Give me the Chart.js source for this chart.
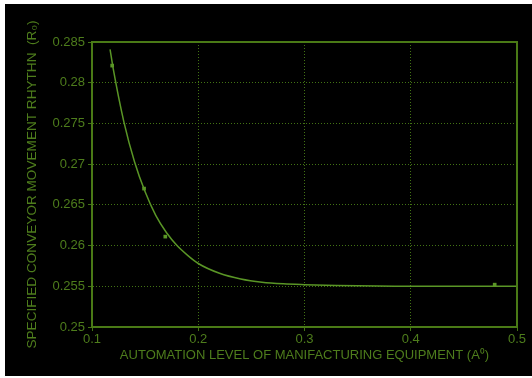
<!DOCTYPE html>
<html>
<head>
<meta charset="utf-8">
<script src="https://cdn.jsdelivr.net/npm/chart.js@4"></script>
<style>
  html, body { margin: 0; padding: 0; background: #fff; }
  #wrap { position: absolute; left: 5px; top: 4px; width: 527px; height: 372px; background: #000; }
</style>
</head>
<body>
<div id="wrap"><canvas id="chart" width="527" height="372"></canvas></div>
<script>
// fitted curve
const curveX = [0.117, 0.12, 0.13, 0.14, 0.15, 0.16, 0.17, 0.18, 0.19, 0.2, 0.22, 0.24, 0.26, 0.28, 0.3, 0.33, 0.4, 0.5];
const curveY = [0.2841, 0.2817, 0.2752, 0.2703, 0.2666, 0.2637, 0.2616, 0.2600, 0.2588, 0.2578, 0.2566, 0.2559, 0.2555, 0.2553, 0.2552, 0.2551, 0.2550, 0.2550];

// measured points
const pointX = [0.119, 0.149, 0.169, 0.479];
const pointY = [0.2821, 0.2670, 0.2611, 0.2552];

const xTicks = [0.1, 0.2, 0.3, 0.4, 0.5];
const yTicks = [0.25, 0.255, 0.26, 0.265, 0.27, 0.275, 0.28, 0.285];

const textColor = '#4e7d1c';
const axisColor = '#4a7a16';
const gridColor = '#427314';
const lineColor = '#5a9626';

const frame = {
  id: 'frame',
  afterDraw(chart) {
    const a = chart.chartArea;
    const ctx = chart.ctx;
    ctx.save();
    ctx.strokeStyle = axisColor;
    ctx.lineWidth = 2;
    ctx.strokeRect(a.left, a.top, a.right - a.left, a.bottom - a.top);
    ctx.restore();
  }
};

new Chart(document.getElementById('chart'), {
  type: 'scatter',
  data: {
    datasets: [
      {
        data: curveX.map((x, i) => ({ x: x, y: curveY[i] })),
        showLine: true,
        borderColor: lineColor,
        borderWidth: 1.5,
        pointRadius: 0,
        cubicInterpolationMode: 'monotone'
      },
      {
        data: pointX.map((x, i) => ({ x: x, y: pointY[i] })),
        pointStyle: 'rect',
        pointRadius: 2.6,
        backgroundColor: lineColor,
        borderColor: lineColor,
        borderWidth: 0
      }
    ]
  },
  options: {
    responsive: false,
    animation: false,
    layout: { padding: { top: 38, right: 15, left: 0, bottom: 0 } },
    plugins: { legend: { display: false }, tooltip: { enabled: false } },
    scales: {
      x: {
        type: 'linear',
        min: 0.1,
        max: 0.5,
        afterBuildTicks: s => { s.ticks = xTicks.map(v => ({ value: v })); },
        afterFit: s => { s.height = 49; },
        ticks: {
          color: textColor,
          font: { family: 'Liberation Sans', size: 13 },
          padding: 1,
          maxRotation: 0,
          callback: v => String(v)
        },
        grid: { color: gridColor, lineWidth: 1, tickLength: 4 },
        border: { color: axisColor, width: 2, dash: [1, 2] },
        title: {
          display: true,
          text: 'AUTOMATION LEVEL OF MANIFACTURING EQUIPMENT (A\u2070)',
          color: textColor,
          font: { family: 'Liberation Sans', size: 13 },
          padding: { top: 0, bottom: 13 }
        }
      },
      y: {
        type: 'linear',
        min: 0.25,
        max: 0.285,
        afterBuildTicks: s => { s.ticks = yTicks.map(v => ({ value: v })); },
        afterFit: s => { s.width = 87; },
        ticks: {
          color: textColor,
          font: { family: 'Liberation Sans', size: 13 },
          padding: 3,
          callback: v => String(v)
        },
        grid: { color: gridColor, lineWidth: 1, tickLength: 4 },
        border: { color: axisColor, width: 2, dash: [1, 2] },
        title: {
          display: true,
          text: 'SPECIFIED CONVEYOR MOVEMENT RHYTHN  (R\u2080)',
          color: textColor,
          font: { family: 'Liberation Sans', size: 13.6 },
          padding: { top: 19, bottom: 0 }
        }
      }
    }
  },
  plugins: [frame]
});
</script>
</body>
</html>
